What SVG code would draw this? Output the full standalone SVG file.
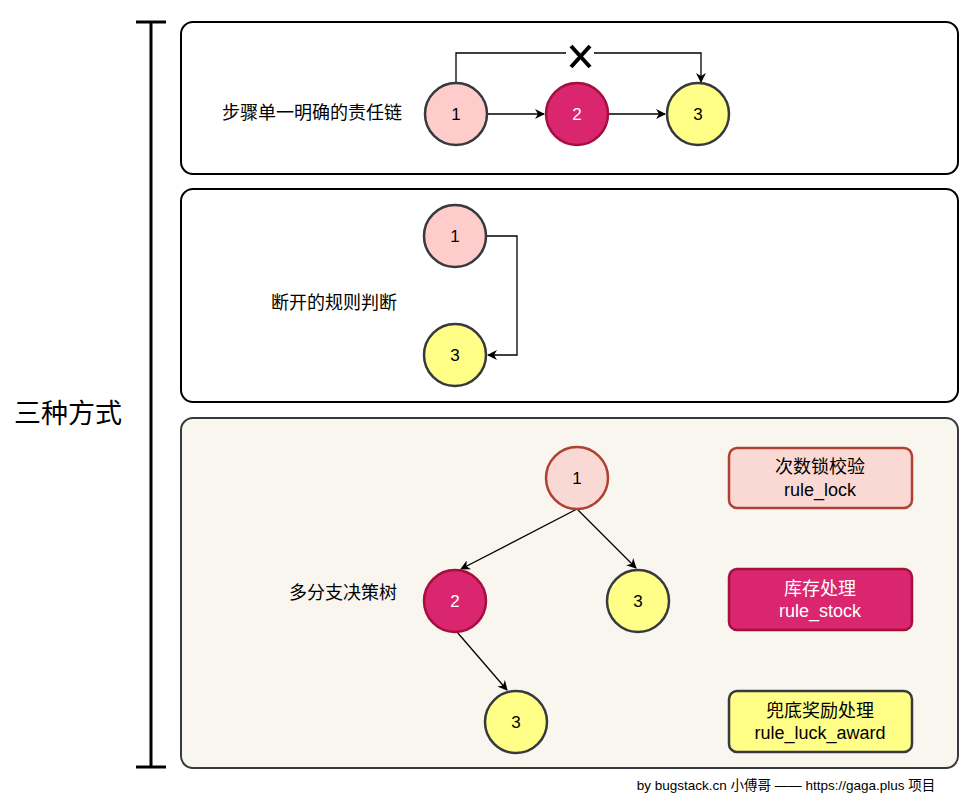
<svg xmlns="http://www.w3.org/2000/svg" width="975" height="801" viewBox="0 0 975 801">
<defs>
<style>
.panel{fill:#fff;stroke:#000;stroke-width:2}
.t{font-family:"Liberation Sans","Noto Sans CJK SC",sans-serif;font-size:18px;text-anchor:middle;dominant-baseline:central;fill:#000}
.n{font-size:17px}
.w{fill:#fff}
.edge{fill:none;stroke:#000;stroke-width:1.3}
.pink{fill:#ffcccc;stroke:#36393d;stroke-width:2.5}
.mag{fill:#d9266f;stroke:#a50f3e;stroke-width:2.5}
.yel{fill:#ffff88;stroke:#36393d;stroke-width:2.5}
.red1{fill:#fad9d5;stroke:#ae4132;stroke-width:2.5}
</style>
<marker id="ah" viewBox="0 0 10 10" refX="9" refY="5" markerWidth="10" markerHeight="10" markerUnits="userSpaceOnUse" orient="auto">
<path d="M0,0 L10,5 L0,10 L3,5 Z" fill="#000"/>
</marker>
</defs>
<rect width="975" height="801" fill="#fff"/>
<g id="bracket" stroke="#000" stroke-width="3">
<line x1="151" y1="22" x2="151" y2="767"/>
<line x1="136" y1="22" x2="166" y2="22"/>
<line x1="136" y1="767" x2="166" y2="767"/>
</g>
<text class="t" x="68" y="414" style="font-size:27px">三种方式</text>
<g id="panel1"><rect class="panel" x="181" y="22" width="777" height="152" rx="12"/></g>
<g id="panel2"><rect class="panel" x="181" y="189" width="777" height="213" rx="12"/></g>
<g id="panel3"><rect x="181" y="418" width="777" height="350" rx="12" fill="#f9f6ef" stroke="#36393d" stroke-width="2"/></g>
<text class="t" x="312" y="113">步骤单一明确的责任链</text>
<text class="t" x="334" y="303">断开的规则判断</text>
<text class="t" x="343" y="593">多分支决策树</text>
<g id="connectors">
<line class="edge" x1="487" y1="114" x2="544" y2="114" marker-end="url(#ah)"/>
<line class="edge" x1="608" y1="114" x2="665" y2="114" marker-end="url(#ah)"/>
<path class="edge" d="M456,83 V53 H566 M594,53 H701 V82" marker-end="url(#ah)"/>
<path class="edge" d="M486,236 H517 V355 H488" marker-end="url(#ah)"/>
<line class="edge" x1="577" y1="509" x2="461" y2="569" marker-end="url(#ah)"/>
<line class="edge" x1="578" y1="510" x2="636" y2="568" marker-end="url(#ah)"/>
<line class="edge" x1="457" y1="632" x2="507" y2="690" marker-end="url(#ah)"/>
</g>
<g id="xmark" stroke="#000" stroke-width="4" stroke-linecap="butt">
<line x1="571" y1="46" x2="590" y2="67"/>
<line x1="590" y1="46" x2="571" y2="67"/>
</g>
<g id="c1a"><circle class="pink" cx="456" cy="114" r="31"/><text class="t n" x="456" y="114">1</text></g>
<g id="c2a"><circle class="mag" cx="577" cy="114" r="31"/><text class="t n w" x="577" y="114">2</text></g>
<g id="c3a"><circle class="yel" cx="698" cy="114" r="31"/><text class="t n" x="698" y="114">3</text></g>
<g id="c1b"><circle class="pink" cx="455" cy="236" r="31"/><text class="t n" x="455" y="236">1</text></g>
<g id="c3b"><circle class="yel" cx="455" cy="355" r="31"/><text class="t n" x="455" y="355">3</text></g>
<g id="c1c"><circle class="red1" cx="577" cy="478" r="31"/><text class="t n" x="577" y="478">1</text></g>
<g id="c2c"><circle class="mag" cx="455" cy="601" r="31"/><text class="t n w" x="455" y="601">2</text></g>
<g id="c3c"><circle class="yel" cx="638" cy="601" r="31"/><text class="t n" x="638" y="601">3</text></g>
<g id="c3d"><circle class="yel" cx="516" cy="722" r="31"/><text class="t n" x="516" y="722">3</text></g>
<g id="rule_lock"><rect x="729" y="448" width="183" height="60" rx="8" class="red1"/><text class="t" x="820" y="467">次数锁校验</text><text class="t" x="820" y="490">rule_lock</text></g>
<g id="rule_stock"><rect x="729" y="569" width="183" height="61" rx="8" class="mag"/><text class="t w" x="820" y="589">库存处理</text><text class="t w" x="820" y="611">rule_stock</text></g>
<g id="rule_luck_award"><rect x="729" y="691" width="183" height="61" rx="8" class="yel"/><text class="t" x="820" y="711">兜底奖励处理</text><text class="t" x="820" y="733">rule_luck_award</text></g>
<text class="t" x="786" y="785" style="font-size:13.5px">by bugstack.cn 小傅哥 —— https://gaga.plus 项目</text>
</svg>
